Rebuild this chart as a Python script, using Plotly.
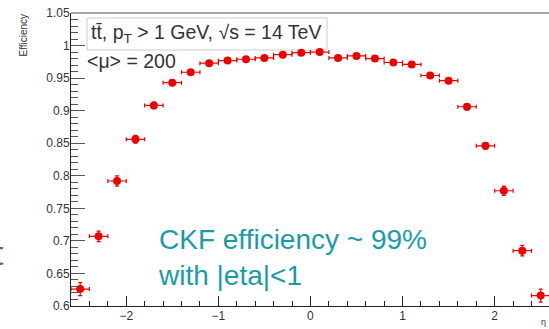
import plotly.graph_objects as go

eta = [-2.5, -2.3, -2.1, -1.9, -1.7, -1.5, -1.3, -1.1, -0.9, -0.7, -0.5, -0.3, -0.1,
       0.1, 0.3, 0.5, 0.7, 0.9, 1.1, 1.3, 1.5, 1.7, 1.9, 2.1, 2.3, 2.5]
eff = [0.626, 0.707, 0.792, 0.856, 0.908, 0.943, 0.959, 0.973, 0.977, 0.979, 0.981, 0.986, 0.989,
       0.990, 0.981, 0.984, 0.980, 0.974, 0.971, 0.954, 0.946, 0.906, 0.846, 0.777, 0.685, 0.616]
eff_err = [0.010, 0.008, 0.008, 0.006, 0.005, 0.004, 0.003, 0.003, 0.002, 0.002, 0.002, 0.002, 0.002,
           0.002, 0.002, 0.002, 0.002, 0.002, 0.003, 0.003, 0.004, 0.005, 0.005, 0.007, 0.008, 0.010]
bin_half = [0.1] * len(eta)
ytick_vals = [0.6, 0.65, 0.7, 0.75, 0.8, 0.85, 0.9, 0.95, 1.0, 1.05]
ytick_text = ["0.6", "0.65", "0.7", "0.75", "0.8", "0.85", "0.9", "0.95", "1", "1.05"]

W, H = 549, 329
ML, MR, MT, MB = 71, 0, 13, 23
PW, PH = W - ML - MR, H - MT - MB

def px(x):
    return (x - ML) / PW

def py(y):
    return 1 - (y - MT) / PH

red = "#ee0000"
fig = go.Figure()
fig.add_trace(go.Scatter(
    x=eta, y=eff, mode="markers",
    marker=dict(color=red, size=8, symbol="circle"),
    error_x=dict(type="data", array=bin_half, color=red, thickness=1.2, width=2),
    error_y=dict(type="data", array=eff_err, color=red, thickness=1.2, width=2),
    showlegend=False, cliponaxis=False,
))

tickfont = dict(family="Liberation Sans, Arial, sans-serif", size=12, color="#333333")
fig.update_layout(
    width=W, height=H,
    margin=dict(l=ML, r=MR, t=MT, b=MB, pad=0, autoexpand=False),
    paper_bgcolor="white", plot_bgcolor="white",
    xaxis=dict(range=[-2.6, 2.59], showgrid=False, zeroline=False, automargin=False,
               showline=True, linecolor="#222222", linewidth=1,
               ticks="inside", ticklen=10, tickcolor="#222222", tickwidth=1,
               dtick=1, tick0=0, tickfont=tickfont, ticklabelstandoff=-1,
               minor=dict(dtick=0.2, ticks="inside", ticklen=5, tickcolor="#222222")),
    yaxis=dict(range=[0.6, 1.05], showgrid=False, zeroline=False, automargin=False,
               showline=True, linecolor="#222222", linewidth=1,
               ticks="inside", ticklen=14, tickcolor="#555555", tickwidth=1,
               tickfont=tickfont, ticklabelstandoff=-2,
               tickvals=ytick_vals, ticktext=ytick_text,
               minor=dict(dtick=0.01, ticks="inside", ticklen=7, tickcolor="#555555")),
)

# top frame line
fig.add_shape(type="line", xref="paper", yref="paper", x0=0, x1=1, y0=1, y1=1,
              line=dict(color="#888888", width=1.5))
# legend box
fig.add_shape(type="rect", xref="paper", yref="paper",
              x0=px(87), x1=px(327), y0=py(50), y1=py(18),
              line=dict(color="#cccccc", width=1), fillcolor="white", layer="below")

font_main = "Liberation Sans, Arial, sans-serif"
fig.add_annotation(xref="paper", yref="paper", x=px(89), y=py(34), xanchor="left", yanchor="middle",
                   text="tt\u0304, p<sub>T</sub> > 1 GeV, \u221as = 14 TeV", showarrow=False,
                   font=dict(family=font_main, size=19.5, color="#333333"))
fig.add_annotation(xref="paper", yref="paper", x=px(85), y=py(61), xanchor="left", yanchor="middle",
                   text="&lt;\u03bc&gt; = 200", showarrow=False,
                   font=dict(family=font_main, size=19.5, color="#333333"))
fig.add_annotation(xref="paper", yref="paper", x=px(156), y=py(257), xanchor="left", yanchor="middle",
                   text="CKF efficiency ~ 99%<br>with |eta|&lt;1", showarrow=False, align="left",
                   font=dict(family=font_main, size=28, color="#1a9ba8"))
fig.add_annotation(xref="paper", yref="paper", x=px(23), y=py(12), xanchor="center", yanchor="top",
                   text="Efficiency", textangle=-90, showarrow=False,
                   font=dict(family=font_main, size=10, color="#333333"))
fig.add_annotation(xref="paper", yref="paper", x=px(543), y=py(322), xanchor="center", yanchor="middle",
                   text="\u03b7", showarrow=False,
                   font=dict(family=font_main, size=9, color="#333333"))
fig.add_annotation(xref="paper", yref="paper", x=px(6), y=py(253), xanchor="right", yanchor="middle",
                   text="t", showarrow=False,
                   font=dict(family=font_main, size=34, color="#666666"))

fig.write_html("out.html", config={"displayModeBar": False},
               post_script="document.body.style.margin='0';document.body.style.overflow='hidden';")
